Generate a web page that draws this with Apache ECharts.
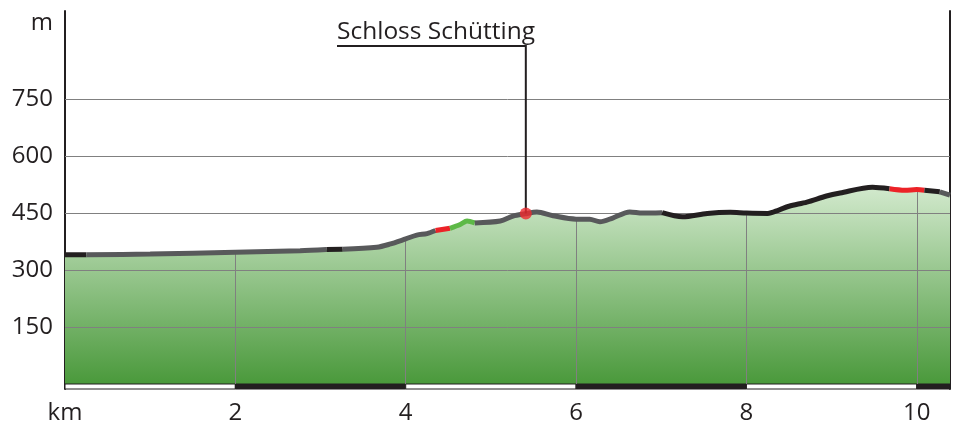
<!DOCTYPE html>
<html>
<head>
<meta charset="utf-8">
<script src="https://cdn.jsdelivr.net/npm/echarts@6/dist/echarts.min.js"></script>
<style>
  html, body { margin: 0; padding: 0; background: #ffffff; }
  #chart { width: 957px; height: 425px; }
</style>
</head>
<body>
<div id="chart"></div>
<script>
// ---- data ----
const kmData   = [0, 0.25, 1.00, 2.00, 2.76, 3.07, 3.26, 3.66, 3.81, 4.00, 4.13, 4.25, 4.35, 4.52, 4.64, 4.72, 4.81, 5.11, 5.26, 5.40, 5.54, 5.73, 6.00, 6.16, 6.28, 6.43, 6.63, 6.78, 7.01, 7.25, 7.54, 7.81, 8.00, 8.25, 8.38, 8.50, 8.71, 8.94, 9.10, 9.48, 9.68, 9.86, 10.00, 10.09, 10.27, 10.39];
const elevData = [340, 340, 342, 347, 351, 354, 355, 360, 368, 382, 392, 396, 404, 410, 420, 429, 424, 429, 442, 448, 453, 443, 434, 434, 427, 437, 453, 450, 451, 440, 449, 452, 450, 449, 458, 468, 479, 495, 503, 518, 514, 510, 512, 510, 506, 497];

// path segments (surface type) along the route
const segStart = [0,    0.25,  3.07,  3.26,  4.35,  4.52,  4.81,  7.01,  9.68,  10.09, 10.27];
const segEnd   = [0.25, 3.07,  3.26,  4.35,  4.52,  4.81,  7.01,  9.68,  10.09, 10.27, 10.39];
const segType  = ['black','gray','black','gray','red','green','gray','black','red','black','gray'];

// axis ticks
const yTicks = [150, 300, 450, 600, 750];
const xTicks = [2, 4, 6, 8, 10];
const xMax = 10.39;

// distance scale bar (alternating)
const scaleStart = [0, 2, 4, 6, 8, 10];
const scaleEnd   = [2, 4, 6, 8, 10, 10.39];
const scaleDark  = [0, 1, 0, 1, 0, 1];

// point of interest
const poiName = 'Schloss Schütting';
const poiKm = 5.41;
const poiElev = 449;

// ---- styles ----
const colors = { black: '#231f20', gray: '#58595b', red: '#ec2227', green: '#5db947' };
const FONT = '"Open Sans", "Noto Sans", sans-serif';

const profile = kmData.map((k, i) => [k, elevData[i]]);

const segSeries = segStart.map((s, i) => ({
  type: 'line',
  xAxisIndex: 0, yAxisIndex: 0,
  data: profile.filter(p => p[0] >= s - 1e-9 && p[0] <= segEnd[i] + 1e-9),
  smooth: 0.3,
  showSymbol: false,
  silent: true,
  z: 10,
  lineStyle: { color: colors[segType[i]], width: 5 }
}));

const vLines = xTicks.map(k => {
  const p = profile.find(q => Math.abs(q[0] - k) < 1e-9);
  return [{ coord: [k, 0] }, { coord: [k, p[1]] }];
});
const hLines = yTicks.map(v => ({ yAxis: v }));

const chart = echarts.init(document.getElementById('chart'));

const option = {
  animation: false,
  backgroundColor: '#ffffff',
  grid: [
    { left: 65, right: 7, top: 11, bottom: 41 },
    { left: 65, right: 7, top: 384, height: 7 }
  ],
  xAxis: [
    { gridIndex: 0, type: 'value', min: 0, max: xMax, show: false },
    {
      gridIndex: 1, type: 'value', min: 0, max: xMax, interval: 2,
      axisLine: { show: false }, axisTick: { show: false }, splitLine: { show: false },
      axisLabel: {
        show: true, margin: 12, color: '#231f20', fontSize: 24, fontFamily: FONT,
        showMaxLabel: false,
        formatter: v => (v === 0 ? 'km' : (xTicks.indexOf(v) >= 0 ? String(v) : ''))
      }
    }
  ],
  yAxis: [
    {
      gridIndex: 0, type: 'value', min: 0, max: 982, interval: 150,
      axisLine: { show: true, lineStyle: { color: '#231f20', width: 2 } },
      axisTick: { show: false }, splitLine: { show: false },
      axisLabel: {
        margin: 12, color: '#231f20', fontSize: 24, fontFamily: FONT,
        formatter: v => (yTicks.indexOf(v) >= 0 ? String(v) : '')
      }
    },
    {
      gridIndex: 0, type: 'value', min: 0, max: 982, position: 'right',
      axisLine: { show: true, lineStyle: { color: '#231f20', width: 2 } },
      axisTick: { show: false }, splitLine: { show: false }, axisLabel: { show: false }
    },
    {
      gridIndex: 1, type: 'value', min: 0, max: 1,
      axisLine: { show: true, lineStyle: { color: '#231f20', width: 2 } },
      axisTick: { show: false }, splitLine: { show: false }, axisLabel: { show: false }
    },
    {
      gridIndex: 1, type: 'value', min: 0, max: 1, position: 'right',
      axisLine: { show: true, lineStyle: { color: '#231f20', width: 2 } },
      axisTick: { show: false }, splitLine: { show: false }, axisLabel: { show: false }
    }
  ],
  series: [
    {
      type: 'line',
      xAxisIndex: 0, yAxisIndex: 0,
      data: profile,
      smooth: 0.3,
      showSymbol: false,
      silent: true,
      z: 2,
      lineStyle: { width: 0, opacity: 0 },
      areaStyle: {
        opacity: 1,
        color: new echarts.graphic.LinearGradient(0, 0, 0, 1, [
          { offset: 0, color: '#d2e9cd' },
          { offset: 1, color: '#4a993b' }
        ])
      },
      markLine: {
        silent: true,
        z: 3,
        symbol: ['none', 'none'],
        label: { show: false },
        lineStyle: { color: '#808080', width: 1, type: 'solid' },
        emphasis: { disabled: true },
        data: hLines.concat(vLines)
      }
    },
    ...segSeries,
    {
      type: 'scatter',
      xAxisIndex: 0, yAxisIndex: 0,
      data: [[poiKm, poiElev]],
      symbol: 'circle',
      symbolSize: 12,
      z: 12,
      silent: true,
      itemStyle: { color: '#ee2b2e' }
    },
    {
      type: 'custom',
      xAxisIndex: 1, yAxisIndex: 2,
      silent: true,
      data: scaleStart.map((s, i) => [s, scaleEnd[i], scaleDark[i]]),
      renderItem: function (params, api) {
        const a = api.coord([api.value(0), 1]);
        const b = api.coord([api.value(1), 0]);
        return {
          type: 'rect',
          shape: { x: a[0], y: a[1], width: b[0] - a[0], height: b[1] - a[1] },
          style: {
            fill: api.value(2) ? '#231f20' : '#ffffff',
            stroke: '#231f20',
            lineWidth: 1
          }
        };
      }
    }
  ]
};

chart.setOption(option);

// annotation leader line and label, anchored on the POI data point
const pt = chart.convertToPixel({ gridIndex: 0 }, [poiKm, poiElev]);
const labelLeft = 337, leaderY = 46;
chart.setOption({
  graphic: [
    {
      type: 'polyline',
      silent: true,
      z: 11,
      shape: { points: [[labelLeft, leaderY], [pt[0], leaderY], [pt[0], pt[1]]] },
      style: { stroke: '#231f20', lineWidth: 2, fill: null }
    },
    {
      type: 'text',
      silent: true,
      x: labelLeft, y: 32,
      style: {
        text: poiName, fill: '#231f20', font: '24.5px ' + FONT,
        textAlign: 'left', textVerticalAlign: 'middle', verticalAlign: 'middle'
      }
    },
    {
      type: 'text',
      silent: true,
      x: 53, y: 23,
      style: {
        text: 'm', fill: '#231f20', font: '24px ' + FONT,
        textAlign: 'right', textVerticalAlign: 'middle', verticalAlign: 'middle'
      }
    }
  ]
});
</script>
</body>
</html>
